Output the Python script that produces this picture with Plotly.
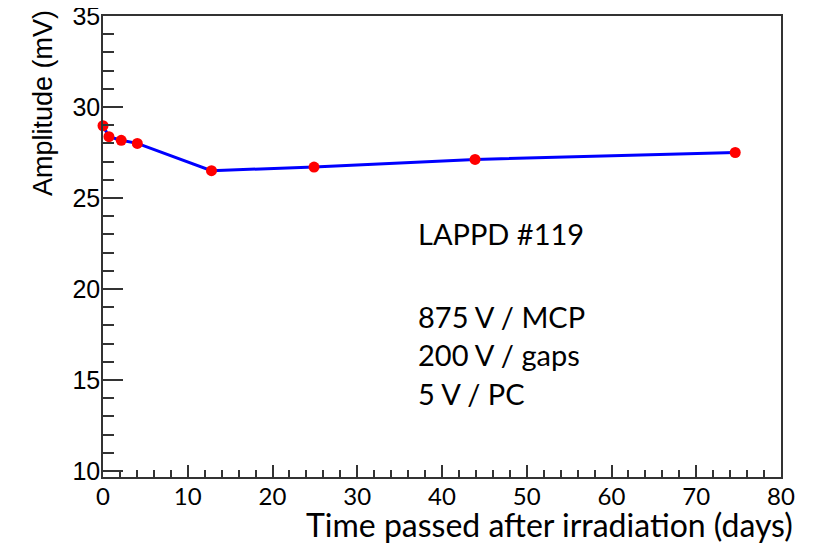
import plotly.graph_objects as go

# Data
days = [0.0, 0.7, 2.15, 4.05, 12.8, 24.9, 43.9, 74.6]
amplitude_mv = [28.97, 28.37, 28.17, 28.0, 26.5, 26.7, 27.12, 27.5]

x_title = "Time passed after irradiation (days)"
y_title = "Amplitude (mV)"
info_lines = ["LAPPD #119", "875 V / MCP", "200 V / gaps", "5 V / PC"]

# page has an 8px body margin: compensate so the frame lands where the reference has it
OFF = 8
W, H = 815 - OFF, 543 - OFF
L, R, T, B = 103 - OFF, 34, 16 - OFF, 66
pw, ph = W - L - R, H - T - B


def px(x):
    return (x - OFF - L) / pw


def py(y):
    return 1 - (y - OFF - T) / ph


fig = go.Figure()
fig.add_trace(go.Scatter(
    x=days, y=amplitude_mv, mode="lines+markers",
    line=dict(color="#0000ff", width=3),
    marker=dict(color="#ff0000", size=11),
    cliponaxis=False, showlegend=False,
))

axis_color = "#333333"
fig.update_xaxes(
    range=[0, 80], dtick=10, tick0=0, automargin=False,
    showgrid=False, zeroline=False,
    showline=True, mirror=True, linecolor=axis_color, linewidth=1.5,
    ticks="inside", ticklen=12, tickwidth=1.5, tickcolor=axis_color,
    minor=dict(ticks="inside", ticklen=7, dtick=2, tickwidth=1.5, tickcolor=axis_color, showgrid=False),
    tickfont=dict(family="Lato", size=24, color="black"),
    ticklabelstandoff=-3, ticklabeloverflow="allow",
)
fig.update_yaxes(
    range=[9.67, 35], tickvals=[10, 15, 20, 25, 30, 35], automargin=False,
    showgrid=False, zeroline=False,
    showline=True, mirror=True, linecolor=axis_color, linewidth=1.5,
    ticks="inside", ticklen=20, tickwidth=1.5, tickcolor=axis_color,
    minor=dict(ticks="inside", ticklen=11, dtick=1, tick0=0, tickwidth=1.5, tickcolor=axis_color, showgrid=False),
    tickfont=dict(family="Liberation Sans", size=25, color="black"),
    ticklabelstandoff=-4, ticklabeloverflow="allow",
)

annotations = [
    dict(text=x_title, x=px(795), y=py(524), xanchor="right", yanchor="middle",
         font=dict(family="Lato", size=32, color="black")),
    dict(text=y_title, x=px(43), y=py(103), xanchor="center", yanchor="middle", textangle=-90,
         font=dict(family="Liberation Sans", size=27, color="black")),
]
line_y = [233, 316, 354, 393]
for txt, yy in zip(info_lines, line_y):
    annotations.append(dict(text=txt, x=px(416), y=py(yy), xanchor="left", yanchor="middle",
                            font=dict(family="Lato", size=29, color="black")))
for a in annotations:
    a.update(xref="paper", yref="paper", showarrow=False)

fig.update_layout(
    width=W, height=H,
    margin=dict(l=L, r=R, t=T, b=B, autoexpand=False),
    paper_bgcolor="white", plot_bgcolor="white",
    annotations=annotations,
)

fig.write_html("out.html")
